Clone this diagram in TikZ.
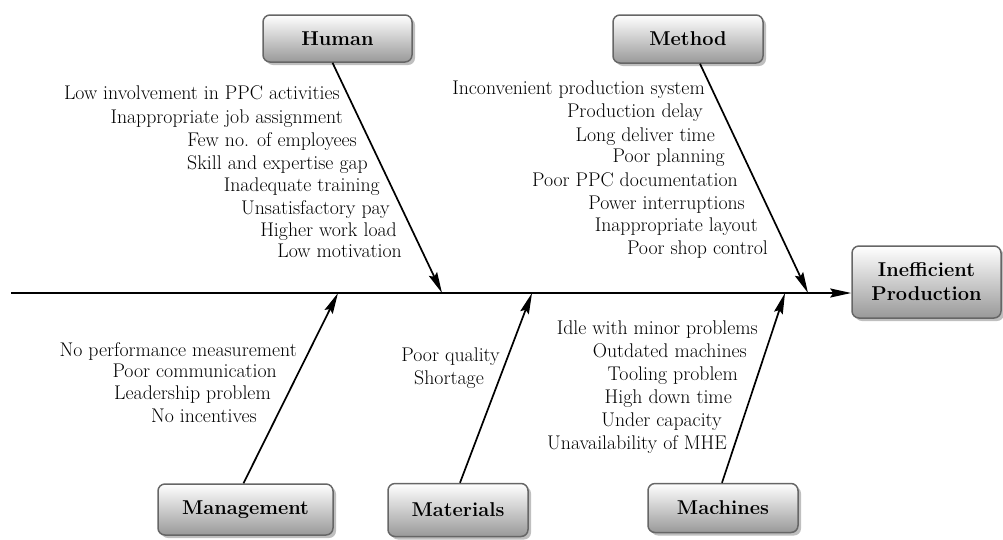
\documentclass[tikz,border=0pt]{standalone}
\usepackage{fontspec}
\usetikzlibrary{arrows.meta,shadows}
\tikzset{
	causebox/.style={draw=black!60, line width=1.5pt, rounded corners=7pt, top color=white, bottom color=black!40,
		drop shadow={shadow xshift=3pt, shadow yshift=-3pt, fill=black!25, opacity=1},
		font=\bfseries\fontsize{20}{24}\selectfont, inner sep=0pt, align=center},
	bone/.style={line width=1.7pt, -{Stealth[length=21pt,width=9pt,inset=3pt]}},
	item/.style={anchor=east, inner sep=0pt, font=\fontsize{19.8}{22.6}\selectfont, text height=13pt, text depth=4pt},
}
\begin{document}
\begin{tikzpicture}[x=1pt, y=-1pt]
	\useasboundingbox (0,0) rectangle (1003,539);
	\node[causebox, minimum width=149pt, minimum height=72pt] (effect) at (926.5,282) {Inefficient\\Production};
	\node[causebox, minimum width=149pt, minimum height=47pt] (human) at (337.5,38.5) {Human};
	\node[causebox, minimum width=150pt, minimum height=48pt] (method) at (688,39) {Method};
	\node[causebox, minimum width=175pt, minimum height=51pt] (manage) at (245.5,509.5) {Management};
	\node[causebox, minimum width=140pt, minimum height=53pt] (material) at (458,510) {Materials};
	\node[causebox, minimum width=150pt, minimum height=49pt] (machine) at (723,508) {Machines};

	\coordinate (tail) at (11,293);
	\coordinate (hT) at (442,293);
	\coordinate (mT) at (808,293);
	\coordinate (gT) at (338,293);
	\coordinate (tT) at (532,293);
	\coordinate (cT) at (785,293);

	\draw[bone, line width=2pt] (tail) -- (tail -| effect.west);
	\draw[bone] ([xshift=-5pt]human.south) -- (hT);
	\draw[bone] ([xshift=12pt]method.south) -- (mT);
	\draw[bone] ([xshift=-2pt]manage.north) -- (gT);
	\draw[bone] ([xshift=2pt]material.north) -- (tT);
	\draw[bone] ([xshift=-1pt]machine.north) -- (cT);

	\foreach \txt/\x/\y [count=\i] in {Low involvement in PPC activities/340/95, Inappropriate job assignment/343/119,
		Few no. of employees/357/142, Skill and expertise gap/368/165, Inadequate training/380/187,
		Unsatisfactory pay/390/210, Higher work load/397/232, Low motivation/402/253}
		\node[item, name=h\i] at (\x,\y) {\txt};
	\foreach \txt/\x/\y [count=\i] in {Inconvenient production system/705/90, Production delay/703/113,
		Long deliver time/715/137, Poor planning/725/158, Poor PPC documentation/738/182,
		Power interruptions/745/205, Inappropriate layout/758/227, Poor shop control/768/250}
		\node[item, name=m\i] at (\x,\y) {\txt};
	\foreach \txt/\x/\y [count=\i] in {No performance measurement/297/352, Poor communication/277/373,
		Leadership problem/271/395, No incentives/257/418}
		\node[item, name=g\i] at (\x,\y) {\txt};
	\foreach \txt/\x/\y [count=\i] in {Poor quality/500/357, Shortage/484/380}
		\node[item, name=t\i] at (\x,\y) {\txt};
	\foreach \txt/\x/\y [count=\i] in {Idle with minor problems/758/330, Outdated machines/747/353,
		Tooling problem/738/376, High down time/732/399, Under capacity/722/422, Unavailability of MHE/727/445}
		\node[item, name=c\i] at (\x,\y) {\txt};
\end{tikzpicture}
\end{document}
